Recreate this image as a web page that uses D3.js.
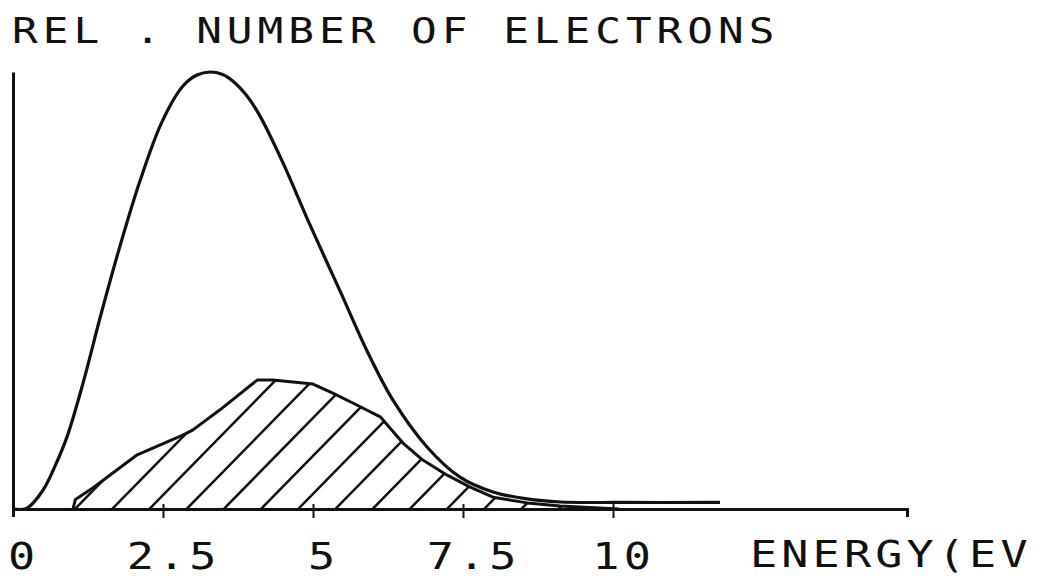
<!DOCTYPE html>
<html>
<head>
<meta charset="utf-8">
<script src="https://cdn.jsdelivr.net/npm/d3@7"></script>
<style>
  html, body { margin: 0; padding: 0; background: #fff; }
  svg { display: block; }
  .lbl { font-family: "DejaVu Sans Mono", monospace; fill: #111; }
</style>
</head>
<body>
<svg id="chart" width="1042" height="578"></svg>
<script>
// Total electron energy distribution (relative number vs energy in eV)
const totalEnergy = [0, 0.233, 0.5, 0.7, 0.9, 1.167, 1.45, 1.75, 2.117, 2.483, 2.833, 3.067, 3.283, 3.483, 3.667, 3.9, 4.117, 4.5, 4.95, 5.45, 5.917, 6.333, 6.9, 7.45, 8.0, 8.567, 9.117, 10.117, 11.783];
const totalCount  = [0, 0.002, 0.043, 0.098, 0.165, 0.288, 0.437, 0.586, 0.751, 0.886, 0.968, 0.993, 1.0, 0.995, 0.979, 0.945, 0.899, 0.792, 0.650, 0.499, 0.357, 0.249, 0.142, 0.073, 0.039, 0.023, 0.016, 0.015, 0.015];

// Hatched sub-population
const partEnergy = [1.0, 1.04, 1.33, 2.07, 2.83, 3.0, 3.45, 4.07, 4.33, 5.0, 5.33, 5.73, 6.12, 6.5, 6.83, 7.23, 7.62, 8.0, 8.57, 9.12, 10.1];
const partCount  = [0.0, 0.022, 0.048, 0.124, 0.169, 0.181, 0.227, 0.295, 0.295, 0.286, 0.265, 0.238, 0.211, 0.151, 0.112, 0.078, 0.050, 0.027, 0.014, 0.007, 0.0];

// Axis tick values and labels
const tickValues = [0, 2.5, 5, 7.5, 10];
const tickLabels = ["0", "2.5", "5", "7.5", "10"];
const titleText = "REL . NUMBER OF ELECTRONS";
const axisTitle = "ENERGY(EV";

const svg = d3.select("#chart");
const x = d3.scaleLinear().domain([0, 14.9]).range([13, 907]);
const y = d3.scaleLinear().domain([0, 1]).range([509, 72]);

// Wide plotter-style lettering: monospace glyphs stretched horizontally
const stretch = 1.22;
function plotterText(str, px, py, size, pitch) {
  svg.append("text").attr("class", "lbl")
    .attr("transform", `translate(${px},${py}) scale(${stretch},1)`)
    .style("font-size", size + "px")
    .attr("letter-spacing", pitch / stretch - 0.602 * size)
    .style("white-space", "pre")
    .text(str);
}

plotterText(titleText, 12, 43, 35, 30.7);

const total = totalEnergy.map((e, i) => [e, totalCount[i]]);
const part = partEnergy.map((e, i) => [e, partCount[i]]);

// Hatched area clip
const area = d3.area().x(d => x(d[0])).y0(y(0)).y1(d => y(d[1])).curve(d3.curveLinear);
svg.append("clipPath").attr("id", "partClip")
  .append("path").attr("d", area(part));

const hatchStep = 0.62;
const hatchStarts = d3.range(1.0, 11, hatchStep);
const hatchG = svg.append("g").attr("clip-path", "url(#partClip)");
hatchG.selectAll("line").data(hatchStarts).join("line")
  .attr("x1", d => x(d)).attr("y1", y(0) + 2)
  .attr("x2", d => x(d) + 200).attr("y2", y(0) + 2 - 204)
  .attr("stroke", "#111").attr("stroke-width", 2.5);

// Curves
svg.append("path")
  .attr("d", d3.line().x(d => x(d[0])).y(d => y(d[1])).curve(d3.curveLinear)(part))
  .attr("fill", "none").attr("stroke", "#111").attr("stroke-width", 3)
  .attr("stroke-linejoin", "round");
svg.append("path")
  .attr("d", d3.line().x(d => x(d[0])).y(d => y(d[1])).curve(d3.curveCatmullRom.alpha(0.5))(total))
  .attr("fill", "none").attr("stroke", "#111").attr("stroke-width", 3.2)
  .attr("stroke-linejoin", "round");

// Axes
const xAxis = d3.axisBottom(x).tickValues(tickValues.slice(1)).tickFormat("").tickSizeOuter(0).tickSize(8);
const gx = svg.append("g").attr("transform", `translate(0,${y(0)})`).call(xAxis);
gx.select(".domain").attr("stroke", "#111").attr("stroke-width", 3);
gx.selectAll(".tick line").attr("y1", -5).attr("y2", 9).attr("stroke", "#111").attr("stroke-width", 2);

const yAxis = d3.axisLeft(y).tickValues([]).tickSizeOuter(0);
const gy = svg.append("g").attr("transform", `translate(${x(0)},0)`).call(yAxis);
gy.select(".domain").attr("stroke", "#111").attr("stroke-width", 3);

// Tick labels
const labelSize = 37, labelPitch = 31.3, glyphW = 22;
tickValues.forEach((v, i) => {
  const s = tickLabels[i];
  const left = x(v) + 6 - ((s.length - 1) * labelPitch + glyphW) / 2;
  plotterText(s, left, 569, labelSize, labelPitch);
});

plotterText(axisTitle, 750, 567, labelSize, labelPitch);
</script>
</body>
</html>
